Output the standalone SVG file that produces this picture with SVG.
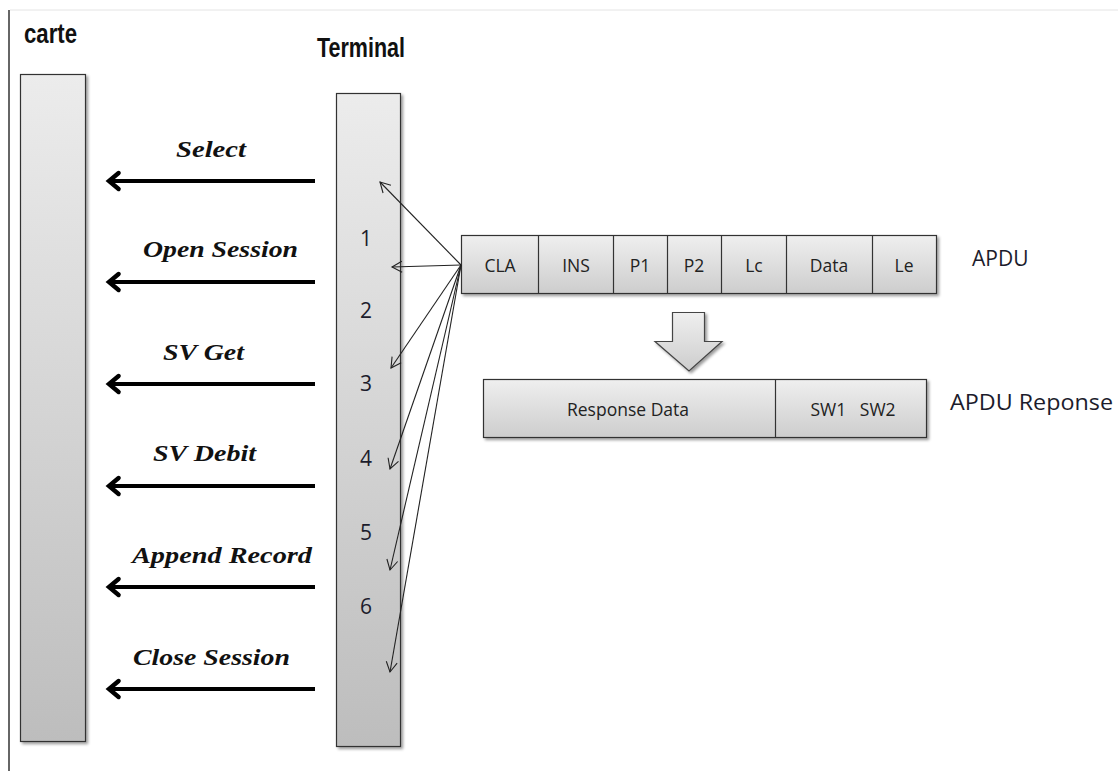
<svg xmlns="http://www.w3.org/2000/svg" width="1118" height="771" viewBox="0 0 1118 771">
<style>
.title{font-family:"Liberation Sans",Arial,sans-serif;font-weight:bold;font-size:27px;fill:#111}
.msg{font-family:"Liberation Serif","Times New Roman",serif;font-weight:bold;font-style:italic;font-size:23px;fill:#111}
.num{font-family:"Open Sans","Liberation Sans",sans-serif;font-size:21px;fill:#1c1c2c}
.cell{font-family:"Open Sans","Liberation Sans",sans-serif;font-size:17.5px;fill:#222;text-anchor:middle}
.side{font-family:"Open Sans","Liberation Sans",sans-serif;font-size:21px;fill:#1c1c2c}
.box{stroke:#333;stroke-width:1.2}
.thick{stroke:#000;stroke-width:4;fill:none;marker-end:url(#big)}
.thin{stroke:#222;stroke-width:1.1;fill:none;marker-end:url(#small)}
</style>
<defs>
<linearGradient id="gv" x1="0" y1="0" x2="0" y2="1">
<stop offset="0" stop-color="#ececec"/><stop offset="1" stop-color="#bdbdbd"/>
</linearGradient>
<linearGradient id="gc" x1="0" y1="0" x2="0" y2="1">
<stop offset="0" stop-color="#efefef"/><stop offset="1" stop-color="#cdcdcd"/>
</linearGradient>
<filter id="sh" x="-10%" y="-10%" width="130%" height="130%">
<feGaussianBlur in="SourceAlpha" stdDeviation="1.5"/><feOffset dx="2" dy="2"/>
<feComponentTransfer><feFuncA type="linear" slope="0.4"/></feComponentTransfer>
<feMerge><feMergeNode/><feMergeNode in="SourceGraphic"/></feMerge>
</filter>
<marker id="big" markerWidth="6" markerHeight="6" refX="3" refY="3" orient="auto" markerUnits="strokeWidth" overflow="visible">
<path d="M0.6,1 L3,3 L0.6,5" fill="none" stroke="#000" stroke-width="1.1" stroke-linecap="round"/>
</marker>
<marker id="small" markerWidth="14" markerHeight="14" refX="11" refY="7" orient="auto" markerUnits="userSpaceOnUse" overflow="visible">
<path d="M1,1.5 L11,7 L1,12.5" fill="none" stroke="#222" stroke-width="1.1"/>
</marker>
</defs>
<rect width="1118" height="771" fill="#fff"/>
<line x1="9" y1="10" x2="9" y2="771" stroke="#333" stroke-width="1.5"/>
<line x1="10" y1="10" x2="1118" y2="10" stroke="#e4e4e4" stroke-width="1"/>

<g id="carte">
<rect class="box" x="20.5" y="74.5" width="65" height="667" fill="url(#gv)" filter="url(#sh)"/>
<text class="title" x="24" y="43" textLength="53" lengthAdjust="spacingAndGlyphs">carte</text>
</g>

<g id="terminal">
<rect class="box" x="336.5" y="93.5" width="64" height="653" fill="url(#gv)" filter="url(#sh)"/>
<text class="title" x="317" y="57" textLength="88" lengthAdjust="spacingAndGlyphs">Terminal</text>
<text class="num" x="360" y="246">1</text>
<text class="num" x="360" y="318">2</text>
<text class="num" x="360" y="391">3</text>
<text class="num" x="360" y="466">4</text>
<text class="num" x="360" y="540">5</text>
<text class="num" x="360" y="614">6</text>
</g>

<g id="apdu">
<g filter="url(#sh)">
<rect class="box" x="461.5" y="235.5" width="475" height="58" fill="url(#gc)"/>
</g>
<g stroke="#333" stroke-width="1.2">
<line x1="538.5" y1="235.5" x2="538.5" y2="293.5"/>
<line x1="613.5" y1="235.5" x2="613.5" y2="293.5"/>
<line x1="667.5" y1="235.5" x2="667.5" y2="293.5"/>
<line x1="721.5" y1="235.5" x2="721.5" y2="293.5"/>
<line x1="786.5" y1="235.5" x2="786.5" y2="293.5"/>
<line x1="872.5" y1="235.5" x2="872.5" y2="293.5"/>
</g>
<text class="cell" x="500" y="272">CLA</text>
<text class="cell" x="576" y="272">INS</text>
<text class="cell" x="640" y="272">P1</text>
<text class="cell" x="694" y="272">P2</text>
<text class="cell" x="754" y="272">Lc</text>
<text class="cell" x="829" y="272">Data</text>
<text class="cell" x="904" y="272">Le</text>
<text class="side" x="972" y="266">APDU</text>
</g>

<g id="down-arrow">
<path d="M672.5,312.5 H704.5 V341.5 H722 L689,371 L655,341.5 H672.5 Z" fill="url(#gc)" stroke="#444" stroke-width="1.2" filter="url(#sh)"/>
</g>

<g id="response">
<rect class="box" x="483.5" y="379.5" width="443" height="58" fill="url(#gc)" filter="url(#sh)"/>
<line x1="775.5" y1="379.5" x2="775.5" y2="437.5" stroke="#333" stroke-width="1.2"/>
<text class="cell" x="628" y="416">Response Data</text>
<text class="cell" x="853" y="416" xml:space="preserve">SW1   SW2</text>
<text class="side" x="950" y="410" textLength="163" lengthAdjust="spacingAndGlyphs">APDU Reponse</text>
</g>

<g id="messages">
<text class="msg" x="176" y="157" textLength="70" lengthAdjust="spacingAndGlyphs">Select</text>
<text class="msg" x="143" y="257" textLength="155" lengthAdjust="spacingAndGlyphs">Open Session</text>
<text class="msg" x="163" y="360" textLength="81" lengthAdjust="spacingAndGlyphs">SV Get</text>
<text class="msg" x="153" y="461" textLength="103" lengthAdjust="spacingAndGlyphs">SV Debit</text>
<text class="msg" x="132" y="563" textLength="180" lengthAdjust="spacingAndGlyphs">Append Record</text>
<text class="msg" x="133" y="665" textLength="157" lengthAdjust="spacingAndGlyphs">Close Session</text>
</g>

<g id="connectors">
<line class="thick" x1="315" y1="181" x2="109" y2="181"/>
<line class="thick" x1="315" y1="282" x2="109" y2="282"/>
<line class="thick" x1="315" y1="384" x2="109" y2="384"/>
<line class="thick" x1="315" y1="486" x2="109" y2="486"/>
<line class="thick" x1="315" y1="587" x2="109" y2="587"/>
<line class="thick" x1="315" y1="689" x2="109" y2="689"/>
<line class="thin" x1="461" y1="265" x2="380" y2="182"/>
<line class="thin" x1="461" y1="265" x2="392" y2="267"/>
<line class="thin" x1="461" y1="265" x2="391" y2="368"/>
<line class="thin" x1="461" y1="265" x2="390" y2="469"/>
<line class="thin" x1="461" y1="265" x2="390" y2="570"/>
<line class="thin" x1="461" y1="265" x2="390" y2="672"/>
</g>
</svg>
